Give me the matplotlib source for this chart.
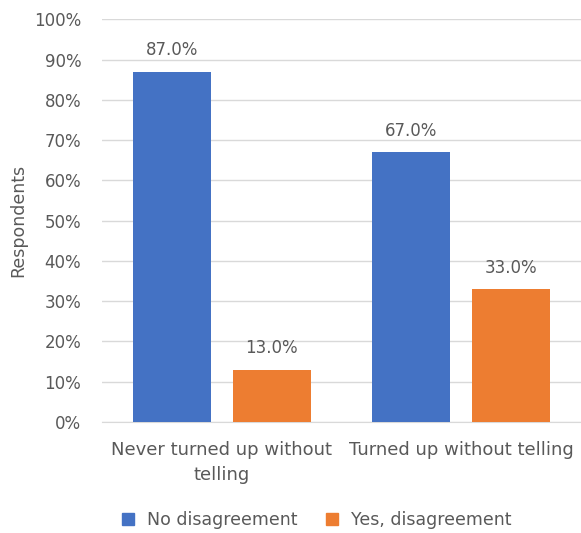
import matplotlib.pyplot as plt
import numpy as np

categories = ["Never turned up without\ntelling", "Turned up without telling"]
series_names = ["No disagreement", "Yes, disagreement"]
no_disagreement = [87.0, 67.0]
yes_disagreement = [13.0, 33.0]
colors = ["#4472C4", "#ED7D31"]
yticks = np.arange(0, 101, 10)

text_color = "#595959"
grid_color = "#D9D9D9"
plt.rcParams["font.family"] = ["DejaVu Sans"]

fig = plt.figure(figsize=(5.81, 5.33), dpi=100)
ax = fig.add_axes([0.1756, 0.2083, 0.8244, 0.7555])

x = np.arange(len(categories))
width = 0.326
offset = 0.208
for vals, col, name, dx in [(no_disagreement, colors[0], series_names[0], -offset),
                            (yes_disagreement, colors[1], series_names[1], offset)]:
    bars = ax.bar(x + dx, vals, width, color=col, label=name, zorder=3)
    for b, v in zip(bars, vals):
        ax.annotate(f"{v:.1f}%", (b.get_x() + b.get_width() / 2, v),
                    xytext=(0, 9), textcoords="offset points",
                    ha="center", va="bottom", fontsize=12, color=text_color)

ax.set_xlim(-0.5, 1.5)
ax.set_ylim(0, 100)
ax.set_yticks(yticks)
ax.set_yticklabels([f"{t}%" for t in yticks])
ax.set_xticks(x)
ax.set_xticklabels(categories, fontsize=13, linespacing=1.45)
ax.tick_params(axis="both", length=0, colors=text_color)
ax.tick_params(axis="y", labelsize=12, pad=15)
ax.tick_params(axis="x", pad=14)
ax.grid(axis="y", color=grid_color, linewidth=1, zorder=0)
for s in ["top", "right", "left"]:
    ax.spines[s].set_visible(False)
ax.spines["bottom"].set_color(grid_color)
ax.set_ylabel("Respondents", fontsize=12.5, color=text_color, labelpad=5)

handles = [plt.Line2D([], [], marker="s", linestyle="", markersize=9,
                      color=c) for c in colors]
fig.legend(handles, series_names, loc="center", bbox_to_anchor=(0.535, 0.025),
           ncol=2, frameon=False, fontsize=12.5, labelcolor=text_color,
           handletextpad=0.1, columnspacing=1.0)

plt.savefig("out.png", dpi=100)
